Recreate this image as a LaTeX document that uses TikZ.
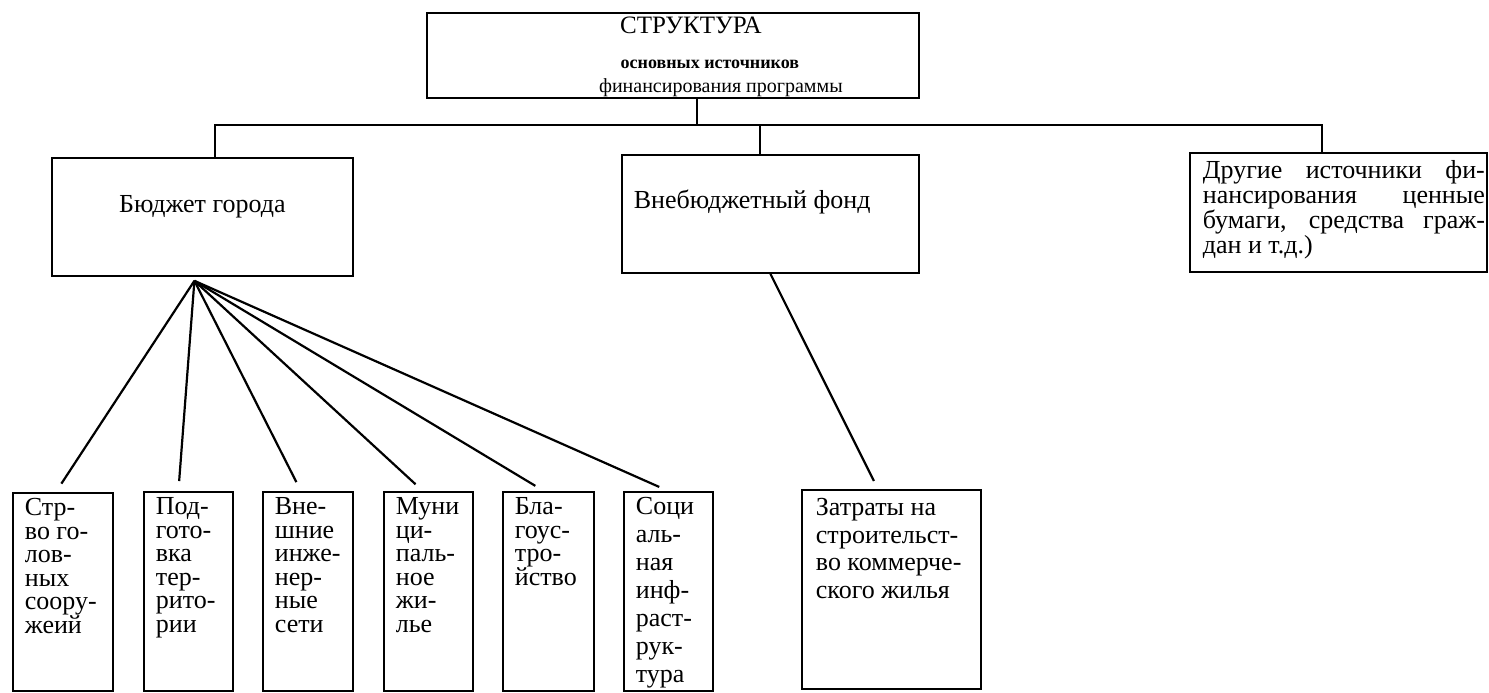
\documentclass[tikz,border=0pt]{standalone}
\usepackage{fontspec}
\setmainfont{Liberation Serif}
\newcommand\cellpar[3]{\parbox[c][#2][t]{#1}{#3}}
\newcommand\bottomtext[2][11.75]{\leftskip=6pt\fontsize{13}{#1}\selectfont\lineskiplimit=-20pt\rule{0pt}{11.5pt}#2\par}
\begin{document}
\begin{tikzpicture}[x=0.5pt,y=-0.5pt,
  box/.style={draw,line width=0.9pt,inner sep=0pt,anchor=north west},
  conn/.style={line width=0.9pt},
  fan/.style={line width=1.1pt,shorten >=5pt}]
\useasboundingbox (0,0) rectangle (1489,692);
% top box
\node[box] (top) at (426,12) {\cellpar{246pt}{42.5pt}{\centering\offinterlineskip
 \fontsize{12.5}{12.5}\selectfont\hspace*{18pt}\rule{0pt}{10.5pt}СТРУКТУРА\par
 \fontsize{9}{9}\selectfont\bfseries\hspace*{37pt}\rule{0pt}{17pt}основных источников\par
 \fontsize{10}{10}\selectfont\mdseries\hspace*{48pt}\rule{0pt}{12pt}финансирования программы\par}};
% second level
\node[box] (budget) at (51,157) {\cellpar{150.5pt}{59pt}{\centering\fontsize{13}{13}\selectfont\rule{0pt}{27.5pt}Бюджет города\par}};
\node[box] (fund) at (621,154) {\cellpar{148.5pt}{59pt}{\leftskip=6pt\fontsize{13}{13}\selectfont\rule{0pt}{27pt}Внебюджетный фонд\par}};
\node[box] (other) at (1189,152) {\cellpar{148.5pt}{59.5pt}{\leftskip=6.5pt\fontsize{13}{12.5}\selectfont\lineskiplimit=-20pt
 \rule{0pt}{13pt}\makebox[141pt][s]{Другие источники фи-}\par
 \makebox[141pt][s]{нансирования ценные}\par
 \makebox[141pt][s]{бумаги, средства граж-}\par
 дан и т.д.)\par}};
% bottom level
\node[box] (b1) at (12,492) {\cellpar{50pt}{99pt}{\bottomtext{Стр-\\во го-\\лов-\\ных\\соору-\\жеий}}};
\node[box] (b2) at (143,491) {\cellpar{44.5pt}{99.5pt}{\bottomtext{Под-\\гото-\\вка\\тер-\\рито-\\рии}}};
\node[box] (b3) at (262,491) {\cellpar{45pt}{99.5pt}{\bottomtext{Вне-\\шние\\инже-\\нер-\\ные\\сети}}};
\node[box] (b4) at (383,491) {\cellpar{44.5pt}{99.5pt}{\bottomtext{Муни\\ци-\\паль-\\ное\\жи-\\лье}}};
\node[box] (b5) at (502,491) {\cellpar{45.5pt}{99.5pt}{\bottomtext{Бла-\\гоус-\\тро-\\йство}}};
\node[box] (b6) at (623,491) {\cellpar{44.5pt}{99.5pt}{\bottomtext[14]{Соци\\аль-\\ная\\инф-\\раст-\\рук-\\тура}}};
\node[box] (cost) at (801,489) {\cellpar{89.5pt}{99.5pt}{\leftskip=7pt\fontsize{13}{13.75}\selectfont\lineskiplimit=-20pt\rule{0pt}{13pt}Затраты на\\строительст-\\во коммерче-\\ского жилья\par}};
% connectors
\coordinate (jt) at (697,125);
\coordinate (jl) at (215,125);
\coordinate (jf) at (760,125);
\coordinate (jr) at (1322,125);
\draw[conn] (top.south -| jt) -- (jt);
\draw[conn] (budget.north -| jl) -- (jl) -- (jr) -- (other.north -| jr);
\draw[conn] (jf) -- (fund.north -| jf);
\coordinate (apex) at ([xshift=-4pt,yshift=-2pt]budget.south);
\draw[fan] (apex) -- ([xshift=-3.5pt]b1.north);
\draw[fan] (apex) -- ([xshift=-5pt]b2.north);
\draw[fan] (apex) -- ([xshift=-3.5pt]b3.north);
\draw[fan] (apex) -- ([xshift=-2.75pt]b4.north);
\draw[fan] (apex) -- ([xshift=-2.25pt]b5.north);
\draw[fan] (apex) -- (b6.north);
\draw[fan,shorten >=4.5pt] (fund.south) -- ([xshift=-6.75pt]cost.north);
\end{tikzpicture}
\end{document}
